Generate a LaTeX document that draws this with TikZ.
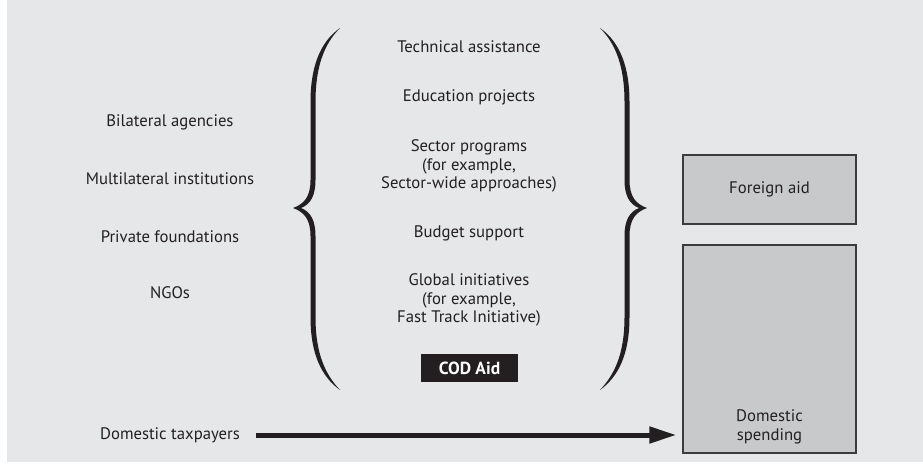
\documentclass[tikz,border=0pt]{standalone}
\usepackage{fontspec}
\setmainfont{PT Sans}
\usetikzlibrary{calc, arrows.meta}

\definecolor{ink}{HTML}{231F20}
\definecolor{panelbg}{HTML}{E6E7E8}
\definecolor{boxgray}{HTML}{C8C9CB}
\definecolor{boxedge}{HTML}{3C3C3C}

\tikzset{
  lbl/.style={text=ink, align=center, font=\fontsize{16.7}{18.5}\selectfont, inner sep=0pt},
  sumbox/.style={draw=boxedge, fill=boxgray, line width=1.5pt, minimum width=173pt},
  flow/.style={draw=ink, line width=5pt, -{Triangle[length=27pt, width=16pt]}},
}

\begin{document}
\begin{tikzpicture}[x=1pt, y=1pt]
        \useasboundingbox (0,0) rectangle (923,467);
        \fill[panelbg] (7,5) rectangle (923,467);

        \node[lbl] (bilat) at (170,345) {Bilateral agencies};
        \node[lbl] (multi) at (170,288) {Multilateral institutions};
        \node[lbl] (priv) at (170,230) {Private foundations};
        \node[lbl] (ngo) at (170,174) {NGOs};
        \node[lbl] (taxpay) at (170,32) {Domestic taxpayers};

        \foreach \s in {1,-1}
          \fill[ink, xshift=470pt, xscale=\s]
            (-130,439) .. controls (-150,425) and (-159.5,400) .. (-159.5,365) -- (-159.5,287)
            .. controls (-159.5,270) and (-166,263) .. (-177,259)
            .. controls (-166,255) and (-159.5,248) .. (-159.5,231) -- (-159.5,150)
            .. controls (-159.5,112) and (-148,90) .. (-130,77)
            .. controls (-144,92) and (-154.5,112) .. (-154.5,150) -- (-154.5,231)
            .. controls (-154.5,246) and (-159,255) .. (-169,259)
            .. controls (-159,263) and (-154.5,272) .. (-154.5,287) -- (-154.5,365)
            .. controls (-154.5,400) and (-146,423) .. (-130,439) -- cycle;

        \node[lbl] (techass) at (469,420) {Technical assistance};
        \node[lbl] (edproj) at (469,370) {Education projects};
        \node[lbl] (sector) at (469,301) {Sector programs\\(for example,\\Sector-wide approaches)};
        \node[lbl] (budget) at (469,234) {Budget support};
        \node[lbl] (global) at (469,167) {Global initiatives\\(for example,\\Fast Track Initiative)};
        \node[fill=ink, text=white, font=\fontsize{17.5}{18}\selectfont\bfseries,
              minimum width=97pt, minimum height=28pt, inner sep=0pt] (codaid) at (469.5,99) {COD Aid};

        \node[sumbox, lbl, minimum height=69pt] (foreign) at (769.5,277.5) {Foreign aid};
        \node[sumbox, minimum height=208pt] (domestic) at (769.5,118) {};
        \node[lbl] (domlbl) at ($(domestic.south)+(0,27)$) {Domestic\\spending};

        \draw[flow, shorten <=16pt, shorten >=6pt] (taxpay.east) -- (taxpay.east -| domestic.west);
    \end{tikzpicture}
\end{document}
